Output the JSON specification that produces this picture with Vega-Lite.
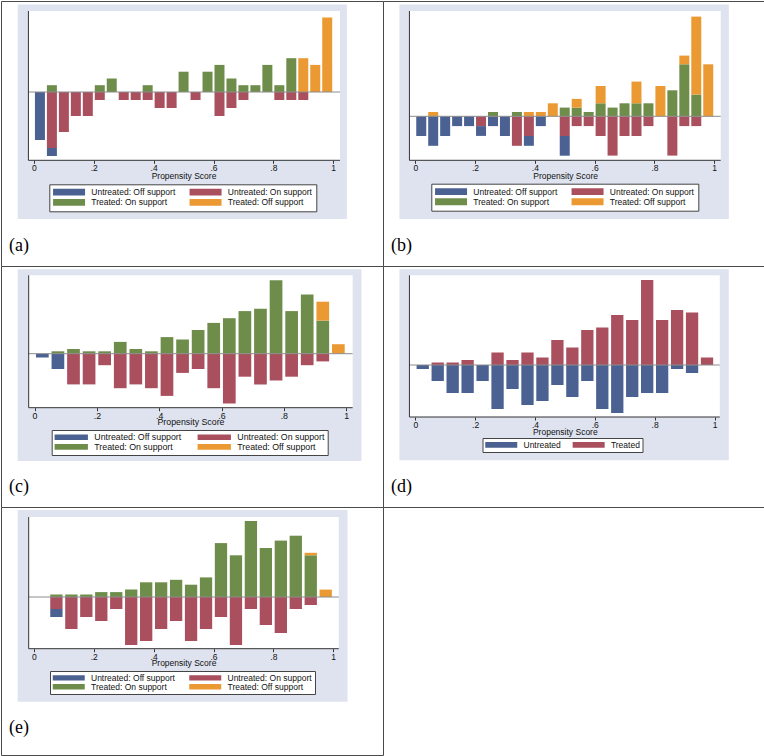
{
  "$schema": "https://vega.github.io/schema/vega-lite/v6.json",
  "padding": 0,
  "background": "#ffffff",
  "spacing": 0,
  "columns": 2,
  "bounds": "flush",
  "resolve": {"scale": {"color": "independent"}, "legend": {"color": "independent"}},
  "config": {
    "font": "Liberation Sans",
    "view": {"stroke": "#4a4a4a", "strokeWidth": 1, "fill": "#ffffff"},
    "concat": {"spacing": 0},
    "axis": {"domain": false, "grid": false, "ticks": true, "tickSize": 3, "tickColor": "#333333", "tickWidth": 1, "labelFont": "Liberation Sans", "labelFontSize": 8.5, "labelColor": "#111111", "labelBaseline": "alphabetic", "labelFlush": false, "labelOverlap": false, "titleFont": "Liberation Sans", "titleFontSize": 8.5, "titleFontWeight": "normal", "titleColor": "#111111", "titleBaseline": "alphabetic", "titleAlign": "center"},
    "legend": {"orient": "none", "direction": "horizontal", "columns": 2, "symbolStrokeWidth": 0, "symbolOpacity": 1, "labelFont": "Liberation Sans", "labelFontSize": 8.5, "labelColor": "#111111", "labelOffset": 30, "fillColor": "#ffffff", "strokeColor": "#444444", "labelLimit": 300, "symbolSize": 64},
    "title": {"font": "Liberation Serif", "fontSize": 18, "fontWeight": "normal", "color": "#000000"}
  },
  "datasets": {
    "a": [
      {"score": 0.02, "group": "Untreated: Off support", "density": -0.48},
      {"score": 0.06, "group": "Treated: On support", "density": 0.068},
      {"score": 0.06, "group": "Untreated: On support", "density": -0.56},
      {"score": 0.06, "group": "Untreated: Off support", "density": -0.08},
      {"score": 0.10, "group": "Untreated: On support", "density": -0.40},
      {"score": 0.14, "group": "Untreated: On support", "density": -0.24},
      {"score": 0.18, "group": "Untreated: On support", "density": -0.24},
      {"score": 0.22, "group": "Treated: On support", "density": 0.068},
      {"score": 0.22, "group": "Untreated: On support", "density": -0.08},
      {"score": 0.26, "group": "Treated: On support", "density": 0.135},
      {"score": 0.30, "group": "Untreated: On support", "density": -0.08},
      {"score": 0.34, "group": "Untreated: On support", "density": -0.08},
      {"score": 0.38, "group": "Treated: On support", "density": 0.068},
      {"score": 0.38, "group": "Untreated: On support", "density": -0.08},
      {"score": 0.42, "group": "Untreated: On support", "density": -0.16},
      {"score": 0.46, "group": "Untreated: On support", "density": -0.16},
      {"score": 0.50, "group": "Treated: On support", "density": 0.203},
      {"score": 0.54, "group": "Untreated: On support", "density": -0.08},
      {"score": 0.58, "group": "Treated: On support", "density": 0.203},
      {"score": 0.62, "group": "Treated: On support", "density": 0.271},
      {"score": 0.62, "group": "Untreated: On support", "density": -0.24},
      {"score": 0.66, "group": "Treated: On support", "density": 0.135},
      {"score": 0.66, "group": "Untreated: On support", "density": -0.16},
      {"score": 0.70, "group": "Treated: On support", "density": 0.068},
      {"score": 0.70, "group": "Untreated: On support", "density": -0.08},
      {"score": 0.74, "group": "Treated: On support", "density": 0.068},
      {"score": 0.78, "group": "Treated: On support", "density": 0.271},
      {"score": 0.82, "group": "Treated: On support", "density": 0.068},
      {"score": 0.82, "group": "Untreated: On support", "density": -0.08},
      {"score": 0.86, "group": "Treated: On support", "density": 0.338},
      {"score": 0.86, "group": "Untreated: On support", "density": -0.08},
      {"score": 0.90, "group": "Treated: Off support", "density": 0.338},
      {"score": 0.90, "group": "Untreated: On support", "density": -0.08},
      {"score": 0.94, "group": "Treated: Off support", "density": 0.271},
      {"score": 0.98, "group": "Treated: Off support", "density": 0.745}
    ],
    "b": [
      {"score": 0.02, "group": "Untreated: Off support", "density": -0.197},
      {"score": 0.06, "group": "Treated: Off support", "density": 0.043},
      {"score": 0.06, "group": "Untreated: Off support", "density": -0.295},
      {"score": 0.10, "group": "Untreated: Off support", "density": -0.197},
      {"score": 0.14, "group": "Untreated: Off support", "density": -0.098},
      {"score": 0.18, "group": "Untreated: Off support", "density": -0.098},
      {"score": 0.22, "group": "Untreated: On support", "density": -0.098},
      {"score": 0.22, "group": "Untreated: Off support", "density": -0.098},
      {"score": 0.26, "group": "Treated: On support", "density": 0.043},
      {"score": 0.26, "group": "Untreated: Off support", "density": -0.098},
      {"score": 0.30, "group": "Untreated: Off support", "density": -0.197},
      {"score": 0.34, "group": "Treated: On support", "density": 0.043},
      {"score": 0.34, "group": "Untreated: On support", "density": -0.295},
      {"score": 0.38, "group": "Treated: Off support", "density": 0.043},
      {"score": 0.38, "group": "Untreated: On support", "density": -0.197},
      {"score": 0.38, "group": "Untreated: Off support", "density": -0.098},
      {"score": 0.42, "group": "Treated: Off support", "density": 0.043},
      {"score": 0.42, "group": "Untreated: Off support", "density": -0.098},
      {"score": 0.46, "group": "Treated: Off support", "density": 0.13},
      {"score": 0.50, "group": "Treated: On support", "density": 0.087},
      {"score": 0.50, "group": "Untreated: On support", "density": -0.197},
      {"score": 0.50, "group": "Untreated: Off support", "density": -0.197},
      {"score": 0.54, "group": "Treated: On support", "density": 0.087},
      {"score": 0.54, "group": "Treated: Off support", "density": 0.087},
      {"score": 0.54, "group": "Untreated: On support", "density": -0.098},
      {"score": 0.58, "group": "Treated: On support", "density": 0.043},
      {"score": 0.58, "group": "Untreated: On support", "density": -0.098},
      {"score": 0.62, "group": "Treated: On support", "density": 0.13},
      {"score": 0.62, "group": "Treated: Off support", "density": 0.173},
      {"score": 0.62, "group": "Untreated: On support", "density": -0.197},
      {"score": 0.66, "group": "Treated: On support", "density": 0.087},
      {"score": 0.66, "group": "Untreated: On support", "density": -0.393},
      {"score": 0.70, "group": "Treated: On support", "density": 0.13},
      {"score": 0.70, "group": "Untreated: On support", "density": -0.197},
      {"score": 0.74, "group": "Treated: On support", "density": 0.13},
      {"score": 0.74, "group": "Treated: Off support", "density": 0.217},
      {"score": 0.74, "group": "Untreated: On support", "density": -0.197},
      {"score": 0.78, "group": "Treated: On support", "density": 0.13},
      {"score": 0.78, "group": "Untreated: On support", "density": -0.098},
      {"score": 0.82, "group": "Treated: Off support", "density": 0.303},
      {"score": 0.86, "group": "Treated: On support", "density": 0.26},
      {"score": 0.86, "group": "Untreated: On support", "density": -0.393},
      {"score": 0.90, "group": "Treated: On support", "density": 0.52},
      {"score": 0.90, "group": "Treated: Off support", "density": 0.087},
      {"score": 0.90, "group": "Untreated: On support", "density": -0.098},
      {"score": 0.94, "group": "Treated: On support", "density": 0.217},
      {"score": 0.94, "group": "Treated: Off support", "density": 0.78},
      {"score": 0.94, "group": "Untreated: On support", "density": -0.098},
      {"score": 0.98, "group": "Treated: Off support", "density": 0.52}
    ],
    "c": [
      {"score": 0.025, "group": "Untreated: Off support", "density": -0.038},
      {"score": 0.075, "group": "Treated: On support", "density": 0.024},
      {"score": 0.075, "group": "Untreated: Off support", "density": -0.153},
      {"score": 0.125, "group": "Treated: On support", "density": 0.047},
      {"score": 0.125, "group": "Untreated: On support", "density": -0.307},
      {"score": 0.175, "group": "Treated: On support", "density": 0.024},
      {"score": 0.175, "group": "Untreated: On support", "density": -0.307},
      {"score": 0.225, "group": "Treated: On support", "density": 0.024},
      {"score": 0.225, "group": "Untreated: On support", "density": -0.115},
      {"score": 0.275, "group": "Treated: On support", "density": 0.118},
      {"score": 0.275, "group": "Untreated: On support", "density": -0.345},
      {"score": 0.325, "group": "Treated: On support", "density": 0.047},
      {"score": 0.325, "group": "Untreated: On support", "density": -0.307},
      {"score": 0.375, "group": "Treated: On support", "density": 0.024},
      {"score": 0.375, "group": "Untreated: On support", "density": -0.345},
      {"score": 0.425, "group": "Treated: On support", "density": 0.166},
      {"score": 0.425, "group": "Untreated: On support", "density": -0.422},
      {"score": 0.475, "group": "Treated: On support", "density": 0.142},
      {"score": 0.475, "group": "Untreated: On support", "density": -0.192},
      {"score": 0.525, "group": "Treated: On support", "density": 0.237},
      {"score": 0.525, "group": "Untreated: On support", "density": -0.153},
      {"score": 0.575, "group": "Treated: On support", "density": 0.308},
      {"score": 0.575, "group": "Untreated: On support", "density": -0.345},
      {"score": 0.625, "group": "Treated: On support", "density": 0.355},
      {"score": 0.625, "group": "Untreated: On support", "density": -0.498},
      {"score": 0.675, "group": "Treated: On support", "density": 0.426},
      {"score": 0.675, "group": "Untreated: On support", "density": -0.23},
      {"score": 0.725, "group": "Treated: On support", "density": 0.45},
      {"score": 0.725, "group": "Untreated: On support", "density": -0.307},
      {"score": 0.775, "group": "Treated: On support", "density": 0.734},
      {"score": 0.775, "group": "Untreated: On support", "density": -0.268},
      {"score": 0.825, "group": "Treated: On support", "density": 0.426},
      {"score": 0.825, "group": "Untreated: On support", "density": -0.23},
      {"score": 0.875, "group": "Treated: On support", "density": 0.592},
      {"score": 0.875, "group": "Untreated: On support", "density": -0.115},
      {"score": 0.925, "group": "Treated: On support", "density": 0.331},
      {"score": 0.925, "group": "Treated: Off support", "density": 0.189},
      {"score": 0.925, "group": "Untreated: On support", "density": -0.077},
      {"score": 0.975, "group": "Treated: Off support", "density": 0.095}
    ],
    "d": [
      {"score": 0.025, "group": "Untreated", "density": -0.04},
      {"score": 0.075, "group": "Treated", "density": 0.025},
      {"score": 0.075, "group": "Untreated", "density": -0.16},
      {"score": 0.125, "group": "Treated", "density": 0.025},
      {"score": 0.125, "group": "Untreated", "density": -0.28},
      {"score": 0.175, "group": "Treated", "density": 0.05},
      {"score": 0.175, "group": "Untreated", "density": -0.28},
      {"score": 0.225, "group": "Untreated", "density": -0.16},
      {"score": 0.275, "group": "Treated", "density": 0.125},
      {"score": 0.275, "group": "Untreated", "density": -0.44},
      {"score": 0.325, "group": "Treated", "density": 0.05},
      {"score": 0.325, "group": "Untreated", "density": -0.24},
      {"score": 0.375, "group": "Treated", "density": 0.125},
      {"score": 0.375, "group": "Untreated", "density": -0.40},
      {"score": 0.425, "group": "Treated", "density": 0.075},
      {"score": 0.425, "group": "Untreated", "density": -0.36},
      {"score": 0.475, "group": "Treated", "density": 0.25},
      {"score": 0.475, "group": "Untreated", "density": -0.20},
      {"score": 0.525, "group": "Treated", "density": 0.175},
      {"score": 0.525, "group": "Untreated", "density": -0.32},
      {"score": 0.575, "group": "Treated", "density": 0.35},
      {"score": 0.575, "group": "Untreated", "density": -0.16},
      {"score": 0.625, "group": "Treated", "density": 0.375},
      {"score": 0.625, "group": "Untreated", "density": -0.44},
      {"score": 0.675, "group": "Treated", "density": 0.50},
      {"score": 0.675, "group": "Untreated", "density": -0.48},
      {"score": 0.725, "group": "Treated", "density": 0.45},
      {"score": 0.725, "group": "Untreated", "density": -0.32},
      {"score": 0.775, "group": "Treated", "density": 0.85},
      {"score": 0.775, "group": "Untreated", "density": -0.28},
      {"score": 0.825, "group": "Treated", "density": 0.45},
      {"score": 0.825, "group": "Untreated", "density": -0.28},
      {"score": 0.875, "group": "Treated", "density": 0.55},
      {"score": 0.875, "group": "Untreated", "density": -0.04},
      {"score": 0.925, "group": "Treated", "density": 0.525},
      {"score": 0.925, "group": "Untreated", "density": -0.08},
      {"score": 0.975, "group": "Treated", "density": 0.075}
    ],
    "e": [
      {"score": 0.075, "group": "Treated: On support", "density": 0.025},
      {"score": 0.075, "group": "Untreated: On support", "density": -0.12},
      {"score": 0.075, "group": "Untreated: Off support", "density": -0.08},
      {"score": 0.125, "group": "Treated: On support", "density": 0.025},
      {"score": 0.125, "group": "Untreated: On support", "density": -0.32},
      {"score": 0.175, "group": "Treated: On support", "density": 0.025},
      {"score": 0.175, "group": "Untreated: On support", "density": -0.20},
      {"score": 0.225, "group": "Treated: On support", "density": 0.049},
      {"score": 0.225, "group": "Untreated: On support", "density": -0.24},
      {"score": 0.275, "group": "Treated: On support", "density": 0.049},
      {"score": 0.275, "group": "Untreated: On support", "density": -0.12},
      {"score": 0.325, "group": "Treated: On support", "density": 0.074},
      {"score": 0.325, "group": "Untreated: On support", "density": -0.48},
      {"score": 0.375, "group": "Treated: On support", "density": 0.147},
      {"score": 0.375, "group": "Untreated: On support", "density": -0.44},
      {"score": 0.425, "group": "Treated: On support", "density": 0.147},
      {"score": 0.425, "group": "Untreated: On support", "density": -0.32},
      {"score": 0.475, "group": "Treated: On support", "density": 0.172},
      {"score": 0.475, "group": "Untreated: On support", "density": -0.24},
      {"score": 0.525, "group": "Treated: On support", "density": 0.123},
      {"score": 0.525, "group": "Untreated: On support", "density": -0.44},
      {"score": 0.575, "group": "Treated: On support", "density": 0.196},
      {"score": 0.575, "group": "Untreated: On support", "density": -0.32},
      {"score": 0.625, "group": "Treated: On support", "density": 0.539},
      {"score": 0.625, "group": "Untreated: On support", "density": -0.20},
      {"score": 0.675, "group": "Treated: On support", "density": 0.417},
      {"score": 0.675, "group": "Untreated: On support", "density": -0.48},
      {"score": 0.725, "group": "Treated: On support", "density": 0.76},
      {"score": 0.725, "group": "Untreated: On support", "density": -0.12},
      {"score": 0.775, "group": "Treated: On support", "density": 0.49},
      {"score": 0.775, "group": "Untreated: On support", "density": -0.28},
      {"score": 0.825, "group": "Treated: On support", "density": 0.564},
      {"score": 0.825, "group": "Untreated: On support", "density": -0.36},
      {"score": 0.875, "group": "Treated: On support", "density": 0.613},
      {"score": 0.875, "group": "Untreated: On support", "density": -0.12},
      {"score": 0.925, "group": "Treated: On support", "density": 0.417},
      {"score": 0.925, "group": "Treated: Off support", "density": 0.025},
      {"score": 0.925, "group": "Untreated: On support", "density": -0.08},
      {"score": 0.975, "group": "Treated: Off support", "density": 0.074}
    ]
  },
  "concat": [
    {
      "width": 382, "height": 265,
      "title": {"text": "(a)", "orient": "bottom", "anchor": "start", "frame": "group", "offset": 0, "dx": 8, "dy": -20, "baseline": "middle"},
      "layer": [
        {"data": {"values": [{}]}, "mark": {"type": "rect", "color": "#dee3ef"},
         "encoding": {"x": {"datum": -0.0543, "type": "quantitative"}, "x2": {"datum": 1.0456}, "y": {"datum": 0.875, "type": "quantitative", "axis": null}, "y2": {"datum": -1.27}}},
        {"data": {"values": [{}]}, "mark": {"type": "rect", "color": "#ffffff"},
         "encoding": {"x": {"datum": -0.0185, "type": "quantitative"}, "x2": {"datum": 1.0228}, "y": {"datum": 0.81, "type": "quantitative", "axis": null}, "y2": {"datum": -0.683}}},
        {"data": {"name": "a"}, "mark": {"type": "bar", "size": 10},
         "encoding": {
           "x": {"field": "score", "type": "quantitative", "scale": {"domain": [-0.0934, 1.1497], "nice": false, "zero": false},
                 "axis": {"zindex": 2, "values": [0, 0.2, 0.4, 0.6, 0.8, 1], "labelExpr": "datum.value == 0 ? '0' : datum.value == 1 ? '1' : '.' + round(datum.value * 10)", "title": "Propensity Score", "offset": -105.7, "titleX": 182.5, "titleY": 18.4, "labelPadding": 7.5}},
           "y": {"field": "density", "type": "quantitative", "stack": "zero", "scale": {"domain": [-1.74, 0.91], "nice": false, "zero": false}, "axis": null},
           "color": {"field": "group", "type": "nominal",
                     "scale": {"domain": ["Untreated: Off support", "Untreated: On support", "Treated: On support", "Treated: Off support"], "range": ["#4a6191", "#a94f5d", "#6e8d4b", "#eb9a33"]},
                     "legend": {"title": null, "legendX": 48.3, "legendY": 183.3, "padding": 3.5, "columnPadding": 13.5, "rowPadding": 1.3, "symbolType": "M-1,-0.85H7V0.85H-1Z"}},
           "order": {"field": "group", "sort": "descending"}
         }},
        {"data": {"values": [{}]}, "mark": {"type": "rule", "color": "#8c8c8c", "strokeWidth": 1},
         "encoding": {"x": {"datum": -0.0185, "type": "quantitative"}, "x2": {"datum": 1.0228}, "y": {"datum": 0, "type": "quantitative", "axis": null}}},
        {"data": {"values": [{}]}, "mark": {"type": "rule", "color": "#333333", "strokeWidth": 1},
         "encoding": {"x": {"datum": -0.0185, "type": "quantitative"}, "x2": {"datum": 1.0228}, "y": {"datum": -0.683, "type": "quantitative", "axis": null}}},
        {"data": {"values": [{}]}, "mark": {"type": "rule", "color": "#333333", "strokeWidth": 1},
         "encoding": {"x": {"datum": -0.0185, "type": "quantitative"}, "y": {"datum": -0.683, "type": "quantitative", "axis": null}, "y2": {"datum": 0.81}}}
      ]
    },
    {
      "width": 381, "height": 265,
      "title": {"text": "(b)", "orient": "bottom", "anchor": "start", "frame": "group", "offset": 0, "dx": 8, "dy": -20, "baseline": "middle"},
      "layer": [
        {"data": {"values": [{}]}, "mark": {"type": "rect", "color": "#dee3ef"},
         "encoding": {"x": {"datum": -0.0531, "type": "quantitative"}, "x2": {"datum": 1.0489}, "y": {"datum": 1.118, "type": "quantitative", "axis": null}, "y2": {"datum": -1.027}}},
        {"data": {"values": [{}]}, "mark": {"type": "rect", "color": "#ffffff"},
         "encoding": {"x": {"datum": -0.0195, "type": "quantitative"}, "x2": {"datum": 1.0218}, "y": {"datum": 1.053, "type": "quantitative", "axis": null}, "y2": {"datum": -0.44}}},
        {"data": {"name": "b"}, "mark": {"type": "bar", "size": 10},
         "encoding": {
           "x": {"field": "score", "type": "quantitative", "scale": {"domain": [-0.0912, 1.1498], "nice": false, "zero": false},
                 "axis": {"zindex": 2, "values": [0, 0.2, 0.4, 0.6, 0.8, 1], "labelExpr": "datum.value == 0 ? '0' : datum.value == 1 ? '1' : '.' + round(datum.value * 10)", "title": "Propensity Score", "offset": -105.7, "titleX": 182.2, "titleY": 18.4, "labelPadding": 7.4}},
           "y": {"field": "density", "type": "quantitative", "stack": "zero", "scale": {"domain": [-1.497, 1.153], "nice": false, "zero": false}, "axis": null},
           "color": {"field": "group", "type": "nominal",
                     "scale": {"domain": ["Untreated: Off support", "Untreated: On support", "Treated: On support", "Treated: Off support"], "range": ["#4a6191", "#a94f5d", "#6e8d4b", "#eb9a33"]},
                     "legend": {"title": null, "legendX": 48.3, "legendY": 182.7, "padding": 3.5, "columnPadding": 13.5, "rowPadding": 1.3, "symbolType": "M-1,-0.85H7V0.85H-1Z"}},
           "order": {"field": "group", "sort": "descending"}
         }},
        {"data": {"values": [{}]}, "mark": {"type": "rule", "color": "#8c8c8c", "strokeWidth": 1},
         "encoding": {"x": {"datum": -0.0195, "type": "quantitative"}, "x2": {"datum": 1.0218}, "y": {"datum": 0, "type": "quantitative", "axis": null}}},
        {"data": {"values": [{}]}, "mark": {"type": "rule", "color": "#333333", "strokeWidth": 1},
         "encoding": {"x": {"datum": -0.0195, "type": "quantitative"}, "x2": {"datum": 1.0218}, "y": {"datum": -0.44, "type": "quantitative", "axis": null}}},
        {"data": {"values": [{}]}, "mark": {"type": "rule", "color": "#333333", "strokeWidth": 1},
         "encoding": {"x": {"datum": -0.0195, "type": "quantitative"}, "y": {"datum": -0.44, "type": "quantitative", "axis": null}, "y2": {"datum": 1.053}}}
      ]
    },
    {
      "width": 382, "height": 241,
      "title": {"text": "(c)", "orient": "bottom", "anchor": "start", "frame": "group", "offset": 0, "dx": 8, "dy": -20.3, "baseline": "middle"},
      "layer": [
        {"data": {"values": [{}]}, "mark": {"type": "rect", "color": "#dee3ef"},
         "encoding": {"x": {"datum": -0.0541, "type": "quantitative"}, "x2": {"datum": 1.0491}, "y": {"datum": 0.844, "type": "quantitative", "axis": null}, "y2": {"datum": -1.073}}},
        {"data": {"values": [{}]}, "mark": {"type": "rect", "color": "#ffffff"},
         "encoding": {"x": {"datum": -0.0188, "type": "quantitative"}, "x2": {"datum": 1.0209}, "y": {"datum": 0.784, "type": "quantitative", "axis": null}, "y2": {"datum": -0.54}}},
        {"data": {"name": "c"}, "mark": {"type": "bar", "size": 12.7},
         "encoding": {
           "x": {"field": "score", "type": "quantitative", "scale": {"domain": [-0.0916, 1.1022], "nice": false, "zero": false},
                 "axis": {"zindex": 2, "values": [0, 0.2, 0.4, 0.6, 0.8, 1], "labelExpr": "datum.value == 0 ? '0' : datum.value == 1 ? '1' : '.' + round(datum.value * 10)", "title": "Propensity Score", "offset": -99.3, "titleX": 189.5, "titleY": 17, "labelPadding": 7.4, "labelFontSize": 8.8, "titleFontSize": 8.8}},
           "y": {"field": "density", "type": "quantitative", "stack": "zero", "scale": {"domain": [-1.533, 0.877], "nice": false, "zero": false}, "axis": null},
           "color": {"field": "group", "type": "nominal",
                     "scale": {"domain": ["Untreated: Off support", "Untreated: On support", "Treated: On support", "Treated: Off support"], "range": ["#4a6191", "#a94f5d", "#6e8d4b", "#eb9a33"]},
                     "legend": {"title": null, "legendX": 50.7, "legendY": 164, "padding": 2.5, "columnPadding": 16, "rowPadding": 0, "labelFontSize": 8.8, "labelOffset": 31.3, "symbolType": "M-1,-0.7H7.33V0.7H-1Z"}},
           "order": {"field": "group", "sort": "descending"}
         }},
        {"data": {"values": [{}]}, "mark": {"type": "rule", "color": "#8c8c8c", "strokeWidth": 1},
         "encoding": {"x": {"datum": -0.0188, "type": "quantitative"}, "x2": {"datum": 1.0209}, "y": {"datum": 0, "type": "quantitative", "axis": null}}},
        {"data": {"values": [{}]}, "mark": {"type": "rule", "color": "#333333", "strokeWidth": 1},
         "encoding": {"x": {"datum": -0.0188, "type": "quantitative"}, "x2": {"datum": 1.0209}, "y": {"datum": -0.54, "type": "quantitative", "axis": null}}},
        {"data": {"values": [{}]}, "mark": {"type": "rule", "color": "#333333", "strokeWidth": 1},
         "encoding": {"x": {"datum": -0.0188, "type": "quantitative"}, "y": {"datum": -0.54, "type": "quantitative", "axis": null}, "y2": {"datum": 0.784}}}
      ]
    },
    {
      "width": 381, "height": 241,
      "title": {"text": "(d)", "orient": "bottom", "anchor": "start", "frame": "group", "offset": 0, "dx": 8, "dy": -20.3, "baseline": "middle"},
      "layer": [
        {"data": {"values": [{}]}, "mark": {"type": "rect", "color": "#dee3ef"},
         "encoding": {"x": {"datum": -0.053, "type": "quantitative"}, "x2": {"datum": 1.0478}, "y": {"datum": 0.957, "type": "quantitative", "axis": null}, "y2": {"datum": -0.953}}},
        {"data": {"values": [{}]}, "mark": {"type": "rect", "color": "#ffffff"},
         "encoding": {"x": {"datum": -0.0195, "type": "quantitative"}, "x2": {"datum": 1.0176}, "y": {"datum": 0.897, "type": "quantitative", "axis": null}, "y2": {"datum": -0.52}}},
        {"data": {"name": "d"}, "mark": {"type": "bar", "size": 12.3},
         "encoding": {
           "x": {"field": "score", "type": "quantitative", "scale": {"domain": [-0.0911, 1.1487], "nice": false, "zero": false},
                 "axis": {"zindex": 2, "values": [0, 0.2, 0.4, 0.6, 0.8, 1], "labelExpr": "datum.value == 0 ? '0' : datum.value == 1 ? '1' : '.' + round(datum.value * 10)", "title": "Propensity Score", "offset": -90, "titleX": 181.8, "titleY": 17.2, "labelPadding": 7.1}},
           "y": {"field": "density", "type": "quantitative", "stack": "zero", "scale": {"domain": [-1.42, 0.99], "nice": false, "zero": false}, "axis": null},
           "color": {"field": "group", "type": "nominal",
                     "scale": {"domain": ["Untreated", "Treated"], "range": ["#4a6191", "#a94f5d"]},
                     "legend": {"title": null, "legendX": 99.5, "legendY": 172, "padding": 2.5, "columnPadding": 11.4, "rowPadding": 0, "symbolType": "M-1,-0.72H7V0.72H-1Z"}},
           "order": {"field": "group", "sort": "descending"}
         }},
        {"data": {"values": [{}]}, "mark": {"type": "rule", "color": "#8c8c8c", "strokeWidth": 1},
         "encoding": {"x": {"datum": -0.0195, "type": "quantitative"}, "x2": {"datum": 1.0176}, "y": {"datum": 0, "type": "quantitative", "axis": null}}},
        {"data": {"values": [{}]}, "mark": {"type": "rule", "color": "#333333", "strokeWidth": 1},
         "encoding": {"x": {"datum": -0.0195, "type": "quantitative"}, "x2": {"datum": 1.0176}, "y": {"datum": -0.52, "type": "quantitative", "axis": null}}},
        {"data": {"values": [{}]}, "mark": {"type": "rule", "color": "#333333", "strokeWidth": 1},
         "encoding": {"x": {"datum": -0.0195, "type": "quantitative"}, "y": {"datum": -0.52, "type": "quantitative", "axis": null}, "y2": {"datum": 0.897}}}
      ]
    },
    {
      "width": 382, "height": 248,
      "title": {"text": "(e)", "orient": "bottom", "anchor": "start", "frame": "group", "offset": 0, "dx": 8, "dy": -27.3, "baseline": "middle"},
      "layer": [
        {"data": {"values": [{}]}, "mark": {"type": "rect", "color": "#dee3ef"},
         "encoding": {"x": {"datum": -0.0543, "type": "quantitative"}, "x2": {"datum": 1.0478}, "y": {"datum": 0.87, "type": "quantitative", "axis": null}, "y2": {"datum": -1.047}}},
        {"data": {"values": [{}]}, "mark": {"type": "rect", "color": "#ffffff"},
         "encoding": {"x": {"datum": -0.0176, "type": "quantitative"}, "x2": {"datum": 1.0186}, "y": {"datum": 0.80, "type": "quantitative", "axis": null}, "y2": {"datum": -0.517}}},
        {"data": {"name": "e"}, "mark": {"type": "bar", "size": 12.3},
         "encoding": {
           "x": {"field": "score", "type": "quantitative", "scale": {"domain": [-0.0934, 1.1497], "nice": false, "zero": false},
                 "axis": {"zindex": 2, "values": [0, 0.2, 0.4, 0.6, 0.8, 1], "labelExpr": "datum.value == 0 ? '0' : datum.value == 1 ? '1' : '.' + round(datum.value * 10)", "title": "Propensity Score", "offset": -106.3, "titleX": 182.5, "titleY": 17, "labelPadding": 7.4}},
           "y": {"field": "density", "type": "quantitative", "stack": "zero", "scale": {"domain": [-1.58, 0.90], "nice": false, "zero": false}, "axis": null},
           "color": {"field": "group", "type": "nominal",
                     "scale": {"domain": ["Untreated: Off support", "Untreated: On support", "Treated: On support", "Treated: Off support"], "range": ["#4a6191", "#a94f5d", "#6e8d4b", "#eb9a33"]},
                     "legend": {"title": null, "legendX": 49, "legendY": 164, "padding": 2.5, "columnPadding": 13.5, "rowPadding": 0, "symbolType": "M-1,-0.67H7V0.67H-1Z"}},
           "order": {"field": "group", "sort": "descending"}
         }},
        {"data": {"values": [{}]}, "mark": {"type": "rule", "color": "#8c8c8c", "strokeWidth": 1},
         "encoding": {"x": {"datum": -0.0176, "type": "quantitative"}, "x2": {"datum": 1.0186}, "y": {"datum": 0, "type": "quantitative", "axis": null}}},
        {"data": {"values": [{}]}, "mark": {"type": "rule", "color": "#333333", "strokeWidth": 1},
         "encoding": {"x": {"datum": -0.0176, "type": "quantitative"}, "x2": {"datum": 1.0186}, "y": {"datum": -0.517, "type": "quantitative", "axis": null}}},
        {"data": {"values": [{}]}, "mark": {"type": "rule", "color": "#333333", "strokeWidth": 1},
         "encoding": {"x": {"datum": -0.0176, "type": "quantitative"}, "y": {"datum": -0.517, "type": "quantitative", "axis": null}, "y2": {"datum": 0.80}}}
      ]
    },
    {
      "width": 381, "height": 248,
      "data": {"values": []},
      "mark": "rect",
      "encoding": {}
    }
  ]
}
